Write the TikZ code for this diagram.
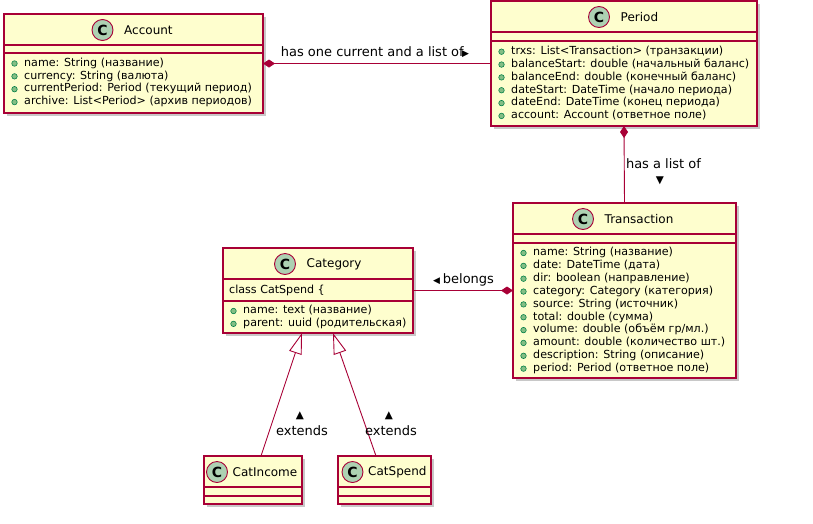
\documentclass[tikz,border=0pt]{standalone}
\usepackage{fontspec}
\setmainfont{DejaVu Sans}
\usetikzlibrary{arrows.meta,shadows,calc}
\definecolor{umlborder}{HTML}{A80036}
\definecolor{umlfill}{HTML}{FEFECE}
\definecolor{circfill}{HTML}{ADD1B2}
\definecolor{bulfill}{HTML}{84BE84}
\definecolor{bulline}{HTML}{038048}
\tikzset{
  classbox/.style={draw=umlborder, fill=umlfill, line width=1.3pt, anchor=north west,
    inner sep=0pt, outer sep=0pt,
    drop shadow={shadow xshift=3pt, shadow yshift=-3pt, opacity=0.3, fill=black!70}},
  divider/.style={draw=umlborder, line width=1.3pt},
  ctitle/.style={font=\fontsize{12}{14}\selectfont, inner sep=0pt, anchor=west},
  cicon/.style={circle, draw=umlborder, fill=circfill, minimum size=21pt, inner sep=0pt,
    font=\fontsize{14}{14}\selectfont\bfseries, line width=0.9pt},
  attr/.style={font=\fontsize{11.1}{13}\selectfont, inner sep=0pt, anchor=west,
    text height=8pt, text depth=2.5pt},
  bullet/.style={circle, draw=bulline, fill=bulfill, minimum size=5.5pt, inner sep=0pt,
    line width=0.6pt},
  lbl/.style={font=\fontsize{13}{15}\selectfont, inner sep=0pt},
  trisym/.style={font=\fontsize{10.5}{10.5}\selectfont, inner sep=0pt},
  link/.style={draw=umlborder, line width=0.9pt},
  compstart/.style={link, {Diamond[length=12pt,width=8pt,fill=umlborder,color=umlborder]}-},
  compend/.style={link, -{Diamond[length=12pt,width=8pt,fill=umlborder,color=umlborder]}},
  inherit/.style={link, -{Triangle[open, length=21pt, width=13pt, fill=white, color=umlborder]}},
}
\newcommand\titlegap{21.5}
% #1 name, #2 left, #3 top, #4 right, #5 bottom, #6 div1, #7 div2, #8 circle x, #9 title
\newcommand\umlclass[9]{%
  \node[classbox, minimum width={#4pt-#2pt}, minimum height={#5pt-#3pt}] (#1) at (#2,#3) {};
  \draw[divider] (#2,#6) -- (#4,#6);
  \draw[divider] (#2,#7) -- (#4,#7);
  \node[cicon] (#1-icon) at (#8,#3+16) {C};
  \node[ctitle] (#1-title) at (#8+\titlegap,#3+16) {#9};
}
% #1 name, #2 left, #3 first y, #4 list
\newcommand\umlattrs[4]{%
  \foreach \t [count=\i] in {#4} {
    \node[bullet] (#1-b\i) at (#2+10.5,#3+12.85*\i-12.85) {};
    \node[attr] (#1-a\i) at (#2+20,#3+12.85*\i-12.85) {\t};
  }
}
\begin{document}
\begin{tikzpicture}[x=1pt, y=-1pt]
\path[use as bounding box, fill=white] (0,0) rectangle (813,523);

\umlclass{account}{4}{14}{263}{113}{45}{53}{102.5}{Account}
\umlattrs{account}{4}{63.5}{name: String (название), currency: String (валюта), currentPeriod: Period (текущий период), archive: List<Period> (архив периодов)}

\umlclass{period}{491}{1}{757}{126}{32}{41}{599}{Period}
\umlattrs{period}{491}{51.7}{trxs: List<Transaction> (транзакции), balanceStart: double (начальный баланс), balanceEnd: double (конечный баланс), dateStart: DateTime (начало периода), dateEnd: DateTime (конец периода), account: Account (ответное поле)}

\umlclass{transaction}{513}{203}{736}{378}{234}{243}{583}{Transaction}
\umlattrs{transaction}{513}{253}{name: String (название), date: DateTime (дата), dir: boolean (направление), category: Category (категория), source: String (источник), total: double (сумма), volume: double (объём гр/мл.), amount: double (количество шт.), description: String (описание), period: Period (ответное поле)}

\umlclass{category}{223}{248}{413}{333}{279}{301}{285}{Category}
\node[attr] (category-extra) at (229,290.5) {class CatSpend \{};
\umlattrs{category}{223}{311}{name: text (название), parent: uuid (родительская)}

\renewcommand\titlegap{15.5}
\umlclass{catincome}{204}{456}{302}{504}{487}{496}{217}{CatIncome}
\umlclass{catspend}{338}{456}{431}{504}{487}{496}{352.5}{CatSpend}

% connectors
\draw[compstart] (account.east) -- (period.west);
\node[lbl] (lab-has) at (375,52) {has one current and a list of\hspace{-1.5pt}{\fontsize{9}{9}\selectfont ▶}};

\draw[compstart] (period.south) -- (transaction.north);
\node[lbl] (lab-list) at (663.5,164) {has a list of};
\node[trisym] (lab-list-tri) at (660,180.5) {▼};

\draw[compend] (category.east) -- (transaction.west |- category.east);
\node[lbl] (lab-belongs) at (463.5,280) {{\fontsize{9}{9}\selectfont ◀}\kern3pt belongs};

\draw[inherit] ($(catincome.north)+(8,0)$) -- ($(category.south)+(-16,0)$);
\draw[inherit] ($(catspend.north)+(-8.5,0)$) -- ($(category.south)+(15,0)$);
\node[trisym] (lab-ext1-tri) at (300,416) {▲};
\node[lbl] (lab-ext1) at (302,430.5) {extends};
\node[trisym] (lab-ext2-tri) at (389,416) {▲};
\node[lbl] (lab-ext2) at (391,430.5) {extends};
\end{tikzpicture}
\end{document}
